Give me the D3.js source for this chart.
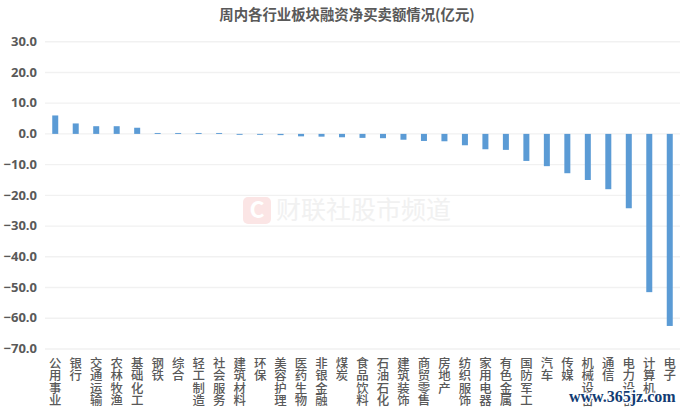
<!DOCTYPE html>
<html>
<head>
<meta charset="utf-8">
<script src="https://cdn.jsdelivr.net/npm/d3@7"></script>
<style>
    html, body { margin: 0; padding: 0; background: #fff; }
    text { font-family: "Noto Sans CJK SC", "Noto Sans", sans-serif; }
</style>
</head>
<body>
<div id="container"></div>
<script>
// sectors, left to right
const sectors = ["公用事业","银行","交通运输","农林牧渔","基础化工","钢铁","综合","轻工制造","社会服务","建筑材料","环保","美容护理","医药生物","非银金融","煤炭","食品饮料","石油石化","建筑装饰","商贸零售","房地产","纺织服饰","家用电器","有色金属","国防军工","汽车","传媒","机械设备","通信","电力设备","计算机","电子"];
// net buy values
const netBuy = [6.0,3.4,2.5,2.5,2.0,0.3,0.3,0.3,0.3,-0.3,-0.3,-0.4,-0.8,-0.9,-1.1,-1.3,-1.4,-1.9,-2.3,-2.4,-3.7,-5.0,-5.2,-8.8,-10.5,-12.8,-15.0,-18.0,-24.2,-51.5,-62.5];
const yTicks = [30,20,10,0,-10,-20,-30,-40,-50,-60,-70];

const width = 692;
const height = 412;
const left = 45;
const right = 680;

const svg = d3.select("#container")
    .append("svg")
    .attr("width", width)
    .attr("height", height)
    .style("display", "block");

const xScale = d3.scaleBand()
    .domain(sectors)
    .range([left, right]);

const yScale = d3.scaleLinear()
    .domain([30, -70])
    .range([41.7, 349]);

//title
svg.append("text")
    .attr("x", 347)
    .attr("y", 20)
    .attr("text-anchor", "middle")
    .attr("font-size", 14.4)
    .attr("font-weight", 700)
    .attr("fill", "#595959")
    .text("周内各行业板块融资净买卖额情况(亿元)");

//left axis with the grid lines
const yAxis = svg.append("g")
    .attr("transform", `translate(${left},0)`)
    .call(d3.axisLeft(yScale).tickValues(yTicks).tickFormat(d3.format(".1f")).tickSize(0).tickPadding(8).offset(0));
yAxis.select(".domain").remove();
yAxis.selectAll("text")
    .attr("font-size", 13)
    .attr("font-weight", 700)
    .attr("fill", "#595959")
    .style("font-family", "'Open Sans'");
yAxis.selectAll(".tick").append("line")
    .attr("x2", right - left)
    .attr("stroke", "#f1f1f1")
    .attr("stroke-width", 1.4);

//logo watermark
const mark = svg.append("g").attr("opacity", 0.9);
mark.append("rect")
    .attr("x", 243)
    .attr("y", 197)
    .attr("width", 28)
    .attr("height", 27)
    .attr("rx", 5)
    .attr("fill", "#fbe3e3");
mark.append("text")
    .attr("x", 257)
    .attr("y", 218)
    .attr("text-anchor", "middle")
    .attr("font-size", 23)
    .attr("font-weight", 700)
    .attr("fill", "#fff")
    .text("C");
mark.append("text")
    .attr("x", 276)
    .attr("y", 219)
    .attr("font-size", 25)
    .attr("fill", "#f0f0f0")
    .text("财联社股市频道");

//bars
svg.append("g")
    .selectAll("rect")
    .data(netBuy)
    .join("rect")
    .attr("x", (d, i) => xScale(sectors[i]) + xScale.bandwidth() / 2 - 3)
    .attr("y", d => yScale(Math.max(d, 0)))
    .attr("width", 6)
    .attr("height", d => Math.abs(yScale(d) - yScale(0)))
    .attr("fill", "#5b9bd5");

//bottom labels, written vertically so each one stays a single text
const xAxis = svg.append("g")
    .attr("transform", "translate(0,352)")
    .call(d3.axisBottom(xScale).tickSize(0).tickFormat(d => d).offset(0));
xAxis.select(".domain").remove();
xAxis.selectAll(".tick text")
    .attr("x", 0)
    .attr("y", 5)
    .attr("dy", 0)
    .attr("font-size", 12.4)
    .attr("font-weight", 500)
    .attr("fill", "#595959")
    .attr("text-anchor", "start")
    .style("writing-mode", "vertical-rl");

//site watermark
svg.append("text")
    .attr("x", 569)
    .attr("y", 402)
    .attr("font-size", 16)
    .attr("font-weight", 700)
    .attr("fill", "#123c73")
    .style("font-family", "'Liberation Serif'")
    .attr("stroke", "#fff")
    .attr("stroke-width", 3)
    .attr("paint-order", "stroke")
    .text("www.365jz.com");
</script>
</body>
</html>
